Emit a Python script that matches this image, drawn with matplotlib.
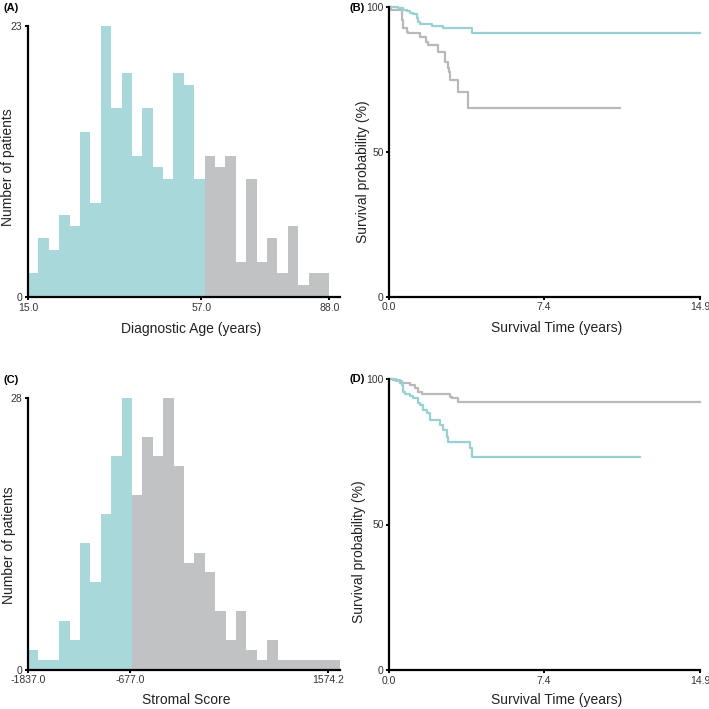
import numpy as np
import matplotlib
matplotlib.use("Agg")
import matplotlib.pyplot as plt

plt.rcParams['font.family'] = ['Liberation Sans', 'DejaVu Sans']

# ---------------- data ----------------
# Panel A: diagnostic age histogram (29 bins from 15 to 88)
age_counts = [2, 5, 4, 7, 6, 14, 8, 23, 16, 19, 12, 16, 11, 10, 19, 18, 10,
              12, 11, 12, 3, 10, 3, 5, 2, 6, 1, 2, 2]
age_low_bins = 17          # bins below cut-off (teal)
age_min, age_max = 15.0, 88.0
age_ticks = [15.0, 57.0, 88.0]
age_ticklabels = ["15.0", "57.0", "88.0"]

# Panel C: stromal score histogram (30 bins starting at -1837, width ~118.1)
stromal_counts = [2, 1, 1, 5, 3, 13, 9, 16, 22, 28,
                  18, 24, 22, 28, 21, 11, 12, 10, 6, 3, 6, 2, 1, 3, 1, 1, 1, 1, 1, 1]
stromal_low_bins = 10
stromal_min, stromal_binw = -1837.0, 118.1
stromal_ticks = [-1837.0, -677.0, 1574.2]
stromal_ticklabels = ["-1837.0", "-677.0", "1574.2"]

# Panel B: Kaplan-Meier by age group
b_low_t = [0, 0.43, 0.67, 0.83, 0.99, 1.15, 1.31, 1.39, 1.47, 2.03, 2.59, 3.95, 14.9]
b_low_s = [100, 99.6, 99.1, 98.7, 98.1, 97.7, 96.2, 95.0, 94.2, 93.5, 92.7, 91.0, 91.0]
b_high_t = [0, 0.10, 0.62, 0.67, 0.83, 0.91, 1.47, 1.75, 1.85, 2.35, 2.67, 2.80, 2.87,
            2.93, 3.31, 3.79, 11.07]
b_high_s = [100, 99.1, 95.5, 92.7, 91.6, 91.0, 89.6, 88.1, 87.0, 84.7, 81.2, 79.0, 77.7,
            74.9, 70.8, 65.1, 65.1]

# Panel D: Kaplan-Meier by stromal score group
d_low_t = [0, 0.30, 0.59, 0.67, 0.75, 0.99, 1.15, 1.39, 1.47, 1.63, 1.79, 1.95, 2.43,
           2.59, 2.75, 2.83, 3.87, 3.95, 12.02]
d_low_s = [100, 99.3, 97.9, 95.6, 94.8, 94.0, 93.4, 91.6, 91.1, 89.3, 88.2, 85.9, 84.2,
           82.5, 80.2, 78.5, 76.2, 73.1, 73.1]
d_high_t = [0, 0.20, 0.51, 0.75, 0.99, 1.23, 1.39, 1.55, 2.91, 2.99, 3.31, 14.9]
d_high_s = [100, 99.5, 98.7, 98.5, 97.9, 96.8, 95.6, 94.8, 93.9, 93.4, 92.0, 92.0]

km_ticks = [0.0, 7.4, 14.9]
km_ticklabels = ["0.0", "7.4", "14.9"]
surv_ticks = [0, 50, 100]

# ---------------- style ----------------
TEAL = "#a9d8da"
GRAY = "#c0c2c3"
TEAL_LINE = "#97d1d4"
GRAY_LINE = "#b9b9b9"
TXT = "#222222"
TICK_TXT = "#333333"

W = H = 709.0
fig = plt.figure(figsize=(7.09, 7.09), dpi=100)


def px_axes(x0, y_top, x1, y_bot):
    return fig.add_axes([x0 / W, 1 - y_bot / H, (x1 - x0) / W, (y_bot - y_top) / H])


def style(ax):
    for s in ("top", "right"):
        ax.spines[s].set_visible(False)
    for s in ("left", "bottom"):
        ax.spines[s].set_linewidth(1.6)
        ax.spines[s].set_color("black")
    ax.tick_params(direction="out", length=2.5, width=1.4, colors="black",
                   labelsize=7.5, labelcolor=TICK_TXT, pad=1.5)


def ftext(x, y, s, **kw):
    fig.text(x / W, 1 - y / H, s, **kw)


# ---- Panel A ----
axA = px_axes(28, 26, 340, 297)
nA = len(age_counts)
edgesA = np.linspace(age_min, age_max, nA + 1)
axA.stairs(age_counts[:age_low_bins], edgesA[:age_low_bins + 1], fill=True, color=TEAL, lw=0)
axA.stairs(age_counts[age_low_bins:], edgesA[age_low_bins:], fill=True, color=GRAY, lw=0)
axA.set_xlim(age_min, age_min + (340 - 28) / ((329.3 - 28) / (age_max - age_min)))
axA.set_ylim(0, max(age_counts))
axA.set_xticks(age_ticks, age_ticklabels)
axA.set_yticks([0, max(age_counts)], ["0", str(max(age_counts))])
style(axA)

# ---- Panel C ----
axC = px_axes(28, 397.7, 340, 669.5)
nC = len(stromal_counts)
edgesC = stromal_min + np.arange(nC + 1) * stromal_binw
axC.stairs(stromal_counts[:stromal_low_bins], edgesC[:stromal_low_bins + 1], fill=True, color=TEAL, lw=0)
axC.stairs(stromal_counts[stromal_low_bins:], edgesC[stromal_low_bins:], fill=True, color=GRAY, lw=0)
axC.set_xlim(stromal_min, edgesC[-1])
axC.set_ylim(0, max(stromal_counts))
axC.set_xticks(stromal_ticks, stromal_ticklabels)
axC.set_yticks([0, max(stromal_counts)], ["0", str(max(stromal_counts))])
style(axC)

# ---- Panel B ----
axB = px_axes(389.3, 7.3, 700, 296.7)
axB.step(b_high_t, b_high_s, where="post", color=GRAY_LINE, lw=1.6)
axB.step(b_low_t, b_low_s, where="post", color=TEAL_LINE, lw=1.6)
axB.set_xlim(0, 14.9)
axB.set_ylim(0, 100)
axB.set_xticks(km_ticks, km_ticklabels)
axB.set_yticks(surv_ticks)
style(axB)

# ---- Panel D ----
axD = px_axes(389.3, 379, 700, 670)
axD.step(d_high_t, d_high_s, where="post", color=GRAY_LINE, lw=1.6)
axD.step(d_low_t, d_low_s, where="post", color=TEAL_LINE, lw=1.6)
axD.set_xlim(0, 14.9)
axD.set_ylim(0, 100)
axD.set_xticks(km_ticks, km_ticklabels)
axD.set_yticks(surv_ticks)
style(axD)

for ax in (axB, axD):
    for ln in ax.lines:
        ln.set_clip_on(False)

# ---- axis labels ----
lab = dict(fontsize=10, color=TXT, ha="center", va="center")
ftext(191, 329, "Diagnostic Age (years)", **lab)
ftext(557, 328, "Survival Time (years)", **lab)
ftext(186, 700, "Stromal Score", **lab)
ftext(557, 700, "Survival Time (years)", **lab)
ftext(8, 167, "Number of patients", rotation=90, **lab)
ftext(9, 545, "Number of patients", rotation=90, **lab)
ftext(363, 172, "Survival probability (%)", rotation=90, **lab)
ftext(359, 552, "Survival probability (%)", rotation=90, **lab)

# ---- panel letters ----
pl = dict(fontsize=8, fontweight="bold", color="black", ha="left", va="center")
ftext(3, 8, "(A)", **pl)
ftext(350, 8, "(B)", **pl)
ftext(3, 380, "(C)", **pl)
ftext(350, 379, "(D)", **pl)

fig.savefig("out.png", dpi=100, facecolor="white")
